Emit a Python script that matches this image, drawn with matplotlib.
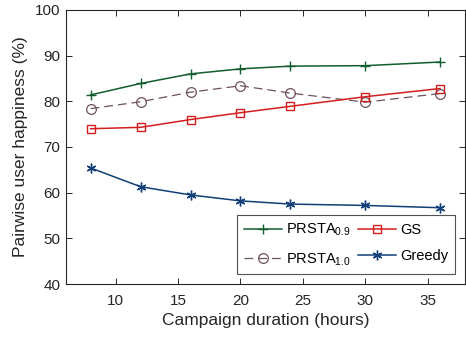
import matplotlib
matplotlib.use("Agg")
import matplotlib.pyplot as plt

plt.rcParams['font.family'] = ['Liberation Sans', 'DejaVu Sans']

hours = [8, 12, 16, 20, 24, 30, 36]
prsta09 = [81.4, 83.9, 86.0, 87.1, 87.7, 87.8, 88.6]
prsta10 = [78.4, 79.9, 82.0, 83.4, 81.8, 79.8, 81.7]
gs = [74.0, 74.3, 76.0, 77.5, 78.9, 81.0, 82.8]
greedy = [65.4, 61.3, 59.5, 58.2, 57.5, 57.2, 56.7]

fig = plt.figure(figsize=(4.66, 3.43), dpi=100)
ax = fig.add_axes([0.141, 0.172, 0.857, 0.799])

ax.plot(hours, prsta09, color='#135e2e', lw=1.1, marker='+', ms=7, mew=1.0,
        label=r'PRSTA$_{\mathregular{0.9}}$')
ax.plot(hours, prsta10, color='#6e5060', lw=0.9, ls=(0, (7, 4)), marker='o', ms=7,
        mfc='none', mew=0.9, label=r'PRSTA$_{\mathregular{1.0}}$')
ax.plot(hours, gs, color='#d41e1e', lw=1.1, marker='s', ms=6, mfc='none', mew=1.0,
        label='GS')
ax.plot(hours, greedy, color='#123f78', lw=1.1, marker=(6, 2, 0), ms=7, mew=1.0,
        label='Greedy')

ax.set_xlim(6, 38)
ax.set_ylim(40, 100)
ax.set_xticks([10, 15, 20, 25, 30, 35])
ax.set_yticks([40, 50, 60, 70, 80, 90, 100])
ax.tick_params(direction='in', top=True, right=True, length=4, width=0.7,
               labelsize=11, colors='#262626')
ax.tick_params(axis='x', pad=7)
ax.tick_params(axis='y', pad=4)
for s in ax.spines.values():
    s.set_linewidth(0.8)
    s.set_color('#262626')

ax.set_xlabel('Campaign duration (hours)', fontsize=12.5, color='#262626', labelpad=4)
ax.set_ylabel('Pairwise user happiness (%)', fontsize=12.5, color='#262626', labelpad=5)

leg = ax.legend(ncol=2, loc='lower right', fontsize=10.5, frameon=True,
                fancybox=False, edgecolor='#262626',
                handlelength=2.6, columnspacing=0.5, handletextpad=0.3,
                borderpad=0.45, labelspacing=0.85, borderaxespad=0.68)
leg.get_frame().set_linewidth(0.8)

fig.savefig('out.png', dpi=100)
